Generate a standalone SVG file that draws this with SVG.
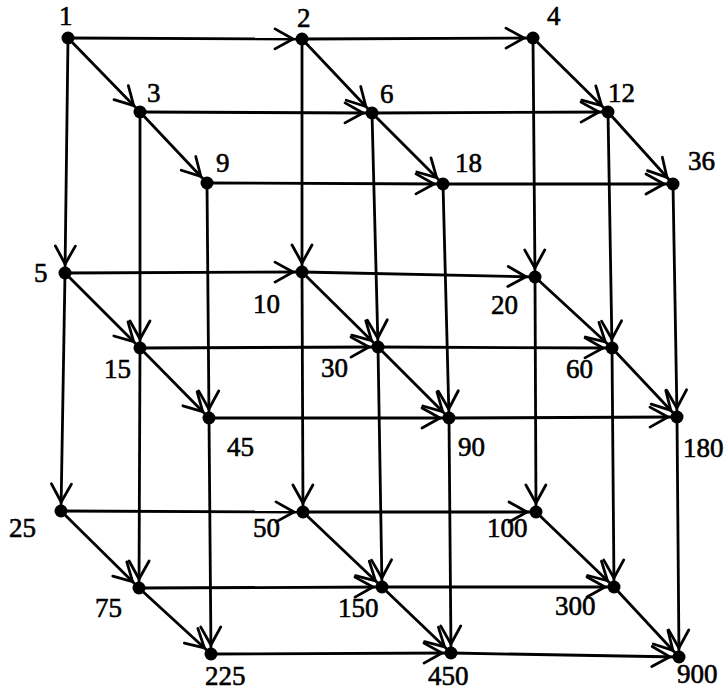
<svg xmlns="http://www.w3.org/2000/svg" width="726" height="691" viewBox="0 0 726 691">
<style>
.e{stroke:#000;stroke-width:2.8;fill:none;marker-end:url(#ah)}
.n circle{fill:#000}
.n text{font-family:"Liberation Serif","Times New Roman",serif;font-size:27px;fill:#000;stroke:#000;stroke-width:0.6}
</style>
<defs>
<marker id="ah" markerUnits="userSpaceOnUse" markerWidth="40" markerHeight="40" refX="9" refY="0" orient="auto" overflow="visible">
<path d="M-18,-10 L0,0 L-18,10" stroke="#000" stroke-width="2.8" fill="none" stroke-linecap="round" stroke-linejoin="round"/>
</marker>
</defs>
<rect width="726" height="691" fill="#fff"/>
<g id="connectors">
<!-- x2 edges (horizontal) -->
<line class="e" x1="68" y1="38" x2="302" y2="39"/>
<line class="e" x1="302" y1="39" x2="533" y2="38"/>
<line class="e" x1="140" y1="112" x2="372" y2="113"/>
<line class="e" x1="372" y1="113" x2="608" y2="112"/>
<line class="e" x1="207" y1="183" x2="443" y2="184"/>
<line class="e" x1="443" y1="184" x2="673" y2="184"/>
<line class="e" x1="65" y1="273" x2="302" y2="272"/>
<line class="e" x1="302" y1="272" x2="535" y2="277"/>
<line class="e" x1="140" y1="348" x2="378" y2="347"/>
<line class="e" x1="378" y1="347" x2="612" y2="348"/>
<line class="e" x1="209" y1="418" x2="449" y2="418"/>
<line class="e" x1="449" y1="418" x2="677" y2="417"/>
<line class="e" x1="61" y1="511" x2="303" y2="512"/>
<line class="e" x1="303" y1="512" x2="536" y2="512"/>
<line class="e" x1="139" y1="588" x2="382" y2="587"/>
<line class="e" x1="382" y1="587" x2="614" y2="587"/>
<line class="e" x1="211" y1="654" x2="451" y2="653"/>
<line class="e" x1="451" y1="653" x2="679" y2="657"/>
<!-- x3 edges (diagonal) -->
<line class="e" x1="68" y1="38" x2="140" y2="112"/>
<line class="e" x1="140" y1="112" x2="207" y2="183"/>
<line class="e" x1="302" y1="39" x2="372" y2="113"/>
<line class="e" x1="372" y1="113" x2="443" y2="184"/>
<line class="e" x1="533" y1="38" x2="608" y2="112"/>
<line class="e" x1="608" y1="112" x2="673" y2="184"/>
<line class="e" x1="65" y1="273" x2="140" y2="348"/>
<line class="e" x1="140" y1="348" x2="209" y2="418"/>
<line class="e" x1="302" y1="272" x2="378" y2="347"/>
<line class="e" x1="378" y1="347" x2="449" y2="418"/>
<line class="e" x1="535" y1="277" x2="612" y2="348"/>
<line class="e" x1="612" y1="348" x2="677" y2="417"/>
<line class="e" x1="61" y1="511" x2="139" y2="588"/>
<line class="e" x1="139" y1="588" x2="211" y2="654"/>
<line class="e" x1="303" y1="512" x2="382" y2="587"/>
<line class="e" x1="382" y1="587" x2="451" y2="653"/>
<line class="e" x1="536" y1="512" x2="614" y2="587"/>
<line class="e" x1="614" y1="587" x2="679" y2="657"/>
<!-- x5 edges (vertical) -->
<line class="e" x1="68" y1="38" x2="65" y2="273"/>
<line class="e" x1="65" y1="273" x2="61" y2="511"/>
<line class="e" x1="302" y1="39" x2="302" y2="272"/>
<line class="e" x1="302" y1="272" x2="303" y2="512"/>
<line class="e" x1="533" y1="38" x2="535" y2="277"/>
<line class="e" x1="535" y1="277" x2="536" y2="512"/>
<line class="e" x1="140" y1="112" x2="140" y2="348"/>
<line class="e" x1="140" y1="348" x2="139" y2="588"/>
<line class="e" x1="372" y1="113" x2="378" y2="347"/>
<line class="e" x1="378" y1="347" x2="382" y2="587"/>
<line class="e" x1="608" y1="112" x2="612" y2="348"/>
<line class="e" x1="612" y1="348" x2="614" y2="587"/>
<line class="e" x1="207" y1="183" x2="209" y2="418"/>
<line class="e" x1="209" y1="418" x2="211" y2="654"/>
<line class="e" x1="443" y1="184" x2="449" y2="418"/>
<line class="e" x1="449" y1="418" x2="451" y2="653"/>
<line class="e" x1="673" y1="184" x2="677" y2="417"/>
<line class="e" x1="677" y1="417" x2="679" y2="657"/>
</g>
<g id="n1" class="n"><circle cx="68" cy="38" r="6.5"/><text x="59" y="25">1</text></g>
<g id="n2" class="n"><circle cx="302" cy="39" r="6.5"/><text x="297" y="27">2</text></g>
<g id="n4" class="n"><circle cx="533" cy="38" r="6.5"/><text x="547" y="25">4</text></g>
<g id="n3" class="n"><circle cx="140" cy="112" r="6.5"/><text x="147" y="102">3</text></g>
<g id="n6" class="n"><circle cx="372" cy="113" r="6.5"/><text x="380" y="103">6</text></g>
<g id="n12" class="n"><circle cx="608" cy="112" r="6.5"/><text x="608" y="102">12</text></g>
<g id="n9" class="n"><circle cx="207" cy="183" r="6.5"/><text x="216" y="172">9</text></g>
<g id="n18" class="n"><circle cx="443" cy="184" r="6.5"/><text x="455" y="172">18</text></g>
<g id="n36" class="n"><circle cx="673" cy="184" r="6.5"/><text x="688" y="170">36</text></g>
<g id="n5" class="n"><circle cx="65" cy="273" r="6.5"/><text x="34" y="282">5</text></g>
<g id="n10" class="n"><circle cx="302" cy="272" r="6.5"/><text x="253" y="313">10</text></g>
<g id="n20" class="n"><circle cx="535" cy="277" r="6.5"/><text x="491" y="314">20</text></g>
<g id="n15" class="n"><circle cx="140" cy="348" r="6.5"/><text x="104" y="378">15</text></g>
<g id="n30" class="n"><circle cx="378" cy="347" r="6.5"/><text x="321" y="377">30</text></g>
<g id="n60" class="n"><circle cx="612" cy="348" r="6.5"/><text x="566" y="378">60</text></g>
<g id="n45" class="n"><circle cx="209" cy="418" r="6.5"/><text x="227" y="456">45</text></g>
<g id="n90" class="n"><circle cx="449" cy="418" r="6.5"/><text x="458" y="456">90</text></g>
<g id="n180" class="n"><circle cx="677" cy="417" r="6.5"/><text x="683" y="457">180</text></g>
<g id="n25" class="n"><circle cx="61" cy="511" r="6.5"/><text x="9" y="537">25</text></g>
<g id="n50" class="n"><circle cx="303" cy="512" r="6.5"/><text x="253" y="537">50</text></g>
<g id="n100" class="n"><circle cx="536" cy="512" r="6.5"/><text x="487" y="537">100</text></g>
<g id="n75" class="n"><circle cx="139" cy="588" r="6.5"/><text x="95" y="617">75</text></g>
<g id="n150" class="n"><circle cx="382" cy="587" r="6.5"/><text x="338" y="617">150</text></g>
<g id="n300" class="n"><circle cx="614" cy="587" r="6.5"/><text x="555" y="615">300</text></g>
<g id="n225" class="n"><circle cx="211" cy="654" r="6.5"/><text x="205" y="685">225</text></g>
<g id="n450" class="n"><circle cx="451" cy="653" r="6.5"/><text x="428" y="685">450</text></g>
<g id="n900" class="n"><circle cx="679" cy="657" r="6.5"/><text x="677" y="683">900</text></g>
</svg>
